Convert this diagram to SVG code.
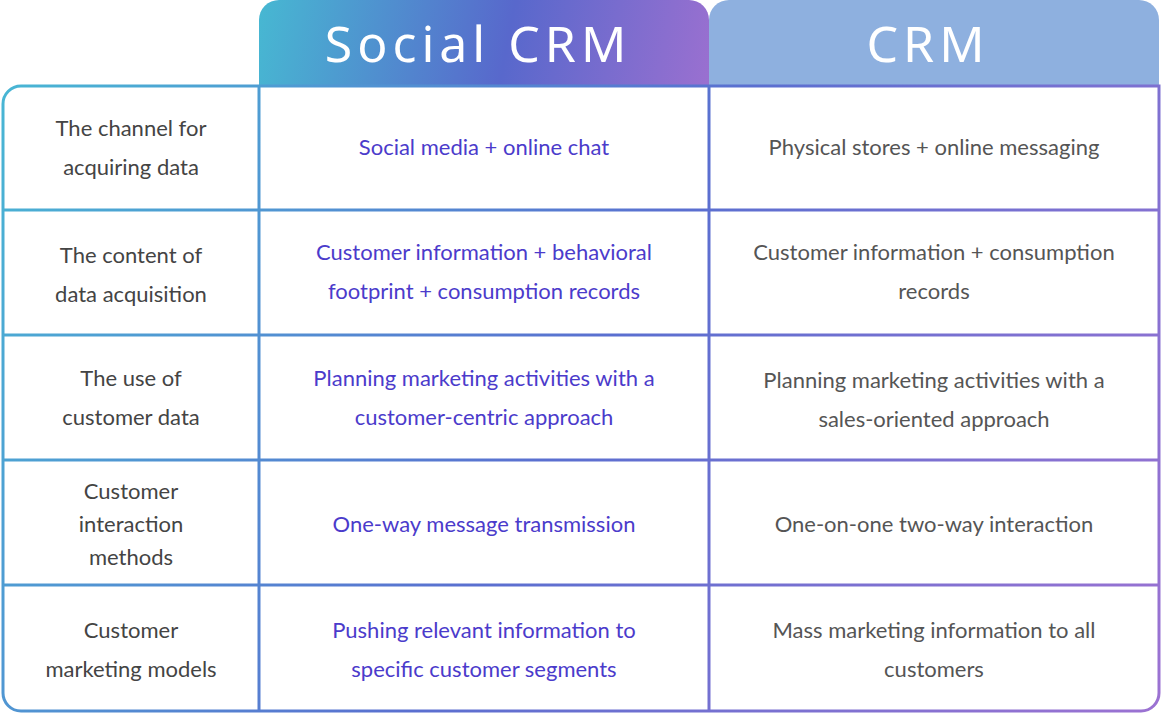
<svg xmlns="http://www.w3.org/2000/svg" width="1161" height="713" viewBox="0 0 1161 713">
<defs>
<linearGradient id="ln" gradientUnits="userSpaceOnUse" x1="0" y1="86" x2="1161" y2="713">
<stop offset="0" stop-color="#48b6d4"/><stop offset="0.5" stop-color="#5a6fd0"/><stop offset="1" stop-color="#9c72d2"/>
</linearGradient>
<linearGradient id="hd" gradientUnits="userSpaceOnUse" x1="259" y1="0" x2="709" y2="86">
<stop offset="0" stop-color="#47b8d2"/><stop offset="0.55" stop-color="#5868cc"/><stop offset="1" stop-color="#9a70d0"/>
</linearGradient>
<style>
.g{stroke:url(#ln);stroke-width:3;fill:none}
text{font-family:Lato,"Liberation Sans",sans-serif;font-size:22px;text-anchor:middle}
.l{fill:#444}.m{fill:#4b3bcb}.r{fill:#555}
.h{font-family:"Noto Sans","Liberation Sans",sans-serif;font-size:50px;fill:#fff;letter-spacing:5px}
</style>
</defs>
<g id="headers">
<path d="M259,86 V20 A20,20 0 0 1 279,0 H689 A20,20 0 0 1 709,20 V86 Z" fill="url(#hd)"/>
<path d="M709,86 V20 A20,20 0 0 1 729,0 H1139 A20,20 0 0 1 1159,20 V86 Z" fill="#8eb0df"/>
<text class="h" x="478" y="62">Social CRM</text>
<text class="h" x="928" y="62">CRM</text>
</g>
<g id="grid">
<path class="g" d="M259,86 H1159 V693 A18,18 0 0 1 1141,711 H21 A18,18 0 0 1 3,693 V104 A18,18 0 0 1 21,86 H259"/>
<path class="g" d="M259,86 V711 M709,86 V711 M3,210 H1159 M3,335 H1159 M3,460 H1159 M3,585 H1159"/>
</g>
<g id="row1">
<text class="l" x="131" y="136">The channel for</text><text class="l" x="131" y="175">acquiring data</text>
<text class="m" x="484" y="155">Social media + online chat</text>
<text class="r" x="934" y="155">Physical stores + online messaging</text>
</g>
<g id="row2">
<text class="l" x="131" y="263">The content of</text><text class="l" x="131" y="302">data acquisition</text>
<text class="m" x="484" y="260">Customer information + behavioral</text><text class="m" x="484" y="299">footprint + consumption records</text>
<text class="r" x="934" y="260">Customer information + consumption</text><text class="r" x="934" y="299">records</text>
</g>
<g id="row3">
<text class="l" x="131" y="386">The use of</text><text class="l" x="131" y="425">customer data</text>
<text class="m" x="484" y="386">Planning marketing activities with a</text><text class="m" x="484" y="425">customer-centric approach</text>
<text class="r" x="934" y="388">Planning marketing activities with a</text><text class="r" x="934" y="427">sales-oriented approach</text>
</g>
<g id="row4">
<text class="l" x="131" y="499">Customer</text><text class="l" x="131" y="532">interaction</text><text class="l" x="131" y="565">methods</text>
<text class="m" x="484" y="532">One-way message transmission</text>
<text class="r" x="934" y="532">One-on-one two-way interaction</text>
</g>
<g id="row5">
<text class="l" x="131" y="638">Customer</text><text class="l" x="131" y="677">marketing models</text>
<text class="m" x="484" y="638">Pushing relevant information to</text><text class="m" x="484" y="677">specific customer segments</text>
<text class="r" x="934" y="638">Mass marketing information to all</text><text class="r" x="934" y="677">customers</text>
</g>
</svg>
